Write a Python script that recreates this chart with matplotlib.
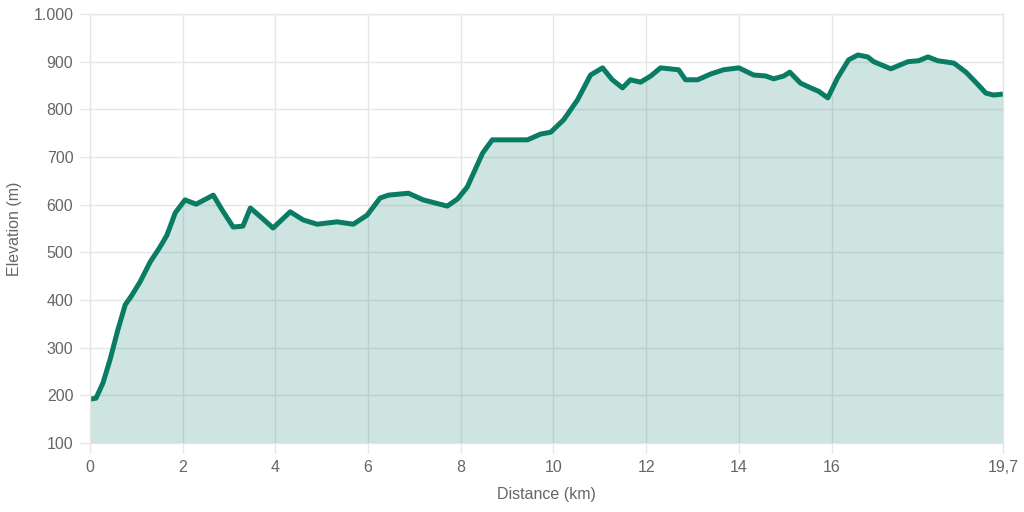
import numpy as np
import matplotlib
matplotlib.use('Agg')
import matplotlib.pyplot as plt

# elevation profile (km, m)
distance = [0.0, 0.13, 0.28, 0.43, 0.60, 0.76, 0.89, 1.08, 1.30, 1.51, 1.66, 1.84,
            2.05, 2.29, 2.66, 2.85, 3.09, 3.30, 3.46, 3.71, 3.95, 4.32, 4.60, 4.90,
            5.33, 5.68, 5.98, 6.26, 6.44, 6.87, 7.19, 7.71, 7.93, 8.14, 8.47, 8.68,
            8.86, 9.44, 9.72, 9.94, 10.22, 10.52, 10.80, 11.06, 11.27, 11.49, 11.66,
            11.88, 12.10, 12.31, 12.70, 12.85, 13.11, 13.39, 13.67, 14.00, 14.32,
            14.58, 14.75, 14.97, 15.10, 15.33, 15.55, 15.72, 15.92, 16.13, 16.37,
            16.57, 16.78, 16.91, 17.28, 17.65, 17.88, 18.08, 18.29, 18.64, 18.90,
            19.11, 19.33, 19.50, 19.70]
elevation = [192, 194, 226, 274, 337, 390, 408, 438, 480, 511, 536, 583,
             610, 601, 620, 589, 553, 555, 593, 572, 551, 585, 568, 559,
             564, 559, 578, 614, 620, 624, 610, 597, 612, 637, 708, 736,
             736, 736, 748, 752, 778, 820, 872, 887, 862, 845, 862,
             857, 870, 887, 883, 862, 862, 874, 883, 887, 872,
             870, 864, 870, 878, 855, 845, 838, 824, 866, 904,
             914, 910, 900, 885, 900, 902, 910, 902, 897, 878,
             857, 834, 830, 832]

xticks = [0, 2, 4, 6, 8, 10, 12, 14, 16, 19.7]
xticklabels = ['0', '2', '4', '6', '8', '10', '12', '14', '16', '19,7']
yticks = [100, 200, 300, 400, 500, 600, 700, 800, 900, 1000]
yticklabels = ['100', '200', '300', '400', '500', '600', '700', '800', '900', '1.000']

line_col = '#0a7c64'
grid_col = '#e6e6e6'
text_col = '#666666'

plt.rcParams['font.family'] = ['Liberation Sans', 'DejaVu Sans']

fig = plt.figure(figsize=(10.24, 5.12), dpi=100)
ax = fig.add_axes([90/1024, 69/512, 913/1024, 429/512])

ax.fill_between(distance, elevation, 100, color=line_col, alpha=0.2, linewidth=0)
ax.plot(distance, elevation, color=line_col, linewidth=3.6,
        solid_joinstyle='round', solid_capstyle='butt')

ax.set_xlim(0, 19.7)
ax.set_ylim(100, 1000)
ax.set_xticks(xticks)
ax.set_xticklabels(xticklabels)
ax.set_yticks(yticks)
ax.set_yticklabels(yticklabels)
ax.grid(True, color=grid_col, linewidth=1)
ax.set_axisbelow(True)
for s in ax.spines.values():
    s.set_color(grid_col)
    s.set_linewidth(1)
ax.tick_params(colors=grid_col, labelcolor=text_col, labelsize=11.5, length=7, width=1, pad=5)

ax.set_xlabel('Distance (km)', color=text_col, fontsize=11.5, labelpad=9)
ax.set_ylabel('Elevation (m)', color=text_col, fontsize=11.5, labelpad=8)

fig.savefig('out.png', dpi=100)
